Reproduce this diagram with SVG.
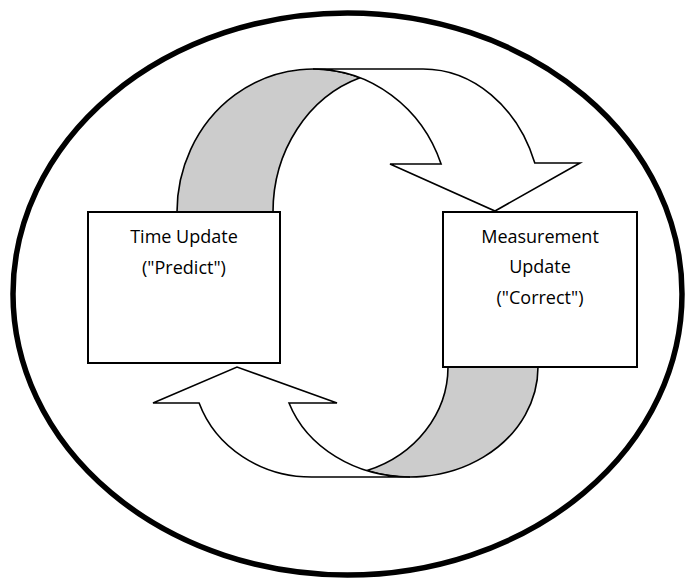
<svg xmlns="http://www.w3.org/2000/svg" width="685" height="581" viewBox="0 0 685 581">
  <style>
    .band { fill: #ffffff; stroke: #000000; stroke-width: 1.6; stroke-linejoin: miter; }
    .back { fill: #cccccc; stroke: #000000; stroke-width: 1.6; }
    .box { fill: #ffffff; stroke: #000000; stroke-width: 2; }
    .label { font-family: "Open Sans", "Noto Sans", "Liberation Sans", sans-serif; font-size: 18px; fill: #000000; text-anchor: middle; }
  </style>
  <rect x="0" y="0" width="685" height="581" fill="#ffffff"/>
  <g id="cycle">
    <ellipse cx="347.5" cy="294" rx="334.5" ry="281" fill="none" stroke="#000000" stroke-width="5.5"/>
  </g>
  <g id="connectors">
    <g id="arrow-predict-to-correct">
      <path class="back" d="M 177 212 A 136 143 0 0 1 360 77.8 A 127 141.4 0 0 0 273 212 Z"/>
      <path class="band" d="M 313 69 L 423 69 A 119 143 0 0 1 534.8 163 L 580 163 L 495 211 L 390 164 L 441.1 164 A 136 143 0 0 0 313 69 Z"/>
    </g>
    <g id="arrow-correct-to-predict">
      <path class="back" d="M 538 367 A 128 110 0 0 1 367 470.6 A 121 110 0 0 0 448 367 Z"/>
      <path class="band" d="M 199.1 403 L 153 403 L 237 367 L 337 403 L 289 403 A 128 110 0 0 0 410 477 L 311.5 477 A 119 110 0 0 1 199.1 403 Z"/>
    </g>
  </g>
  <g id="time-update">
    <rect class="box" x="88" y="212" width="192" height="151"/>
    <text class="label" x="184" y="243">Time Update</text>
    <text class="label" x="184" y="274">("Predict")</text>
  </g>
  <g id="measurement-update">
    <rect class="box" x="443" y="212" width="194" height="155"/>
    <text class="label" x="540" y="243">Measurement</text>
    <text class="label" x="540" y="273">Update</text>
    <text class="label" x="540" y="304">("Correct")</text>
  </g>
</svg>
